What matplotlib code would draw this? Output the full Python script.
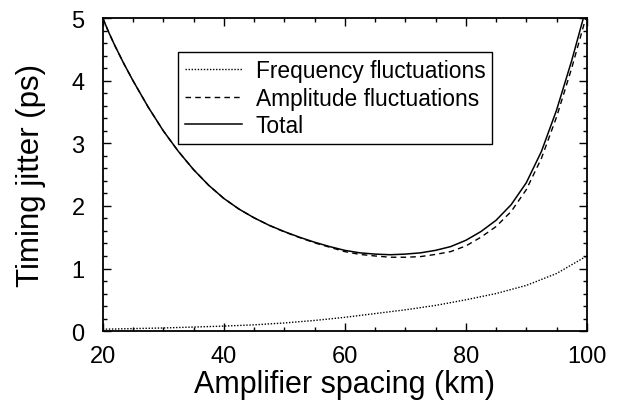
import matplotlib
matplotlib.use("Agg")
import matplotlib.pyplot as plt
from matplotlib.ticker import MultipleLocator

plt.rcParams['font.family'] = ['Liberation Sans', 'DejaVu Sans']

# values
x_tot = [20, 21, 22, 23.5, 25, 27.5, 30, 32.5, 35, 37.5, 40, 42.5, 45, 47.5, 50,
         52.5, 55, 57.5, 60, 62.5, 65, 67.5, 70, 72.5, 75, 77.5, 80, 82.5, 85,
         87.5, 90, 92.5, 95, 97.5, 100]
total = [5.0, 4.77, 4.56, 4.27, 4.0, 3.58, 3.2, 2.87, 2.58, 2.33, 2.12, 1.95, 1.81,
         1.69, 1.59, 1.50, 1.42, 1.35, 1.29, 1.25, 1.23, 1.22, 1.23, 1.25, 1.29,
         1.35, 1.45, 1.59, 1.77, 2.02, 2.37, 2.87, 3.53, 4.32, 5.2]
amp = [5.0, 4.77, 4.56, 4.27, 4.0, 3.58, 3.2, 2.87, 2.58, 2.33, 2.12, 1.95, 1.81,
       1.69, 1.585, 1.495, 1.41, 1.34, 1.27, 1.225, 1.20, 1.18, 1.18, 1.19, 1.225,
       1.27, 1.36, 1.50, 1.67, 1.91, 2.26, 2.76, 3.42, 4.20, 5.06]
x_freq = [20, 25, 30, 35, 40, 45, 50, 55, 60, 65, 70, 75, 80, 85, 90, 95, 100]
freq = [0.03, 0.04, 0.05, 0.065, 0.08, 0.10, 0.13, 0.17, 0.22, 0.28, 0.34, 0.41,
        0.50, 0.60, 0.73, 0.92, 1.20]

fig = plt.figure(figsize=(6.19, 4.06), dpi=100)
ax = fig.add_axes([0.166, 0.182, 0.782, 0.771])

ax.plot(x_freq, freq, color='black', linestyle=(0, (1, 1.2)), linewidth=1.0,
        label='Frequency fluctuations')
ax.plot(x_tot, amp, color='black', linestyle=(0, (4, 3)), linewidth=1.0,
        label='Amplitude fluctuations')
ax.plot(x_tot, total, color='black', linestyle='-', linewidth=1.1, label='Total')

ax.set_xlim(20, 100)
ax.set_ylim(0, 5)
ax.xaxis.set_major_locator(MultipleLocator(20))
ax.xaxis.set_minor_locator(MultipleLocator(5))
ax.yaxis.set_major_locator(MultipleLocator(1))
ax.yaxis.set_minor_locator(MultipleLocator(0.2))
ax.tick_params(which='both', direction='in', top=True, right=True, width=1)
ax.tick_params(which='major', length=6, labelsize=17)
ax.tick_params(axis='x', which='major', pad=10)
ax.tick_params(axis='y', which='major', pad=13)
ax.tick_params(which='minor', length=3)
for s in ax.spines.values():
    s.set_linewidth(1.3)

ax.set_xlabel('Amplifier spacing (km)', fontsize=22)
ax.set_ylabel('Timing jitter (ps)', fontsize=22.5)
ax.xaxis.set_label_coords(0.5, -0.122)
ax.yaxis.set_label_coords(-0.118, 0.5)

leg = ax.legend(loc='upper left', bbox_to_anchor=(0.156, 0.891), borderaxespad=0,
                fontsize=16.4, handlelength=2.5, handletextpad=0.6, labelspacing=0.2,
                fancybox=False, framealpha=1, edgecolor='black', borderpad=0.3)
leg.get_frame().set_linewidth(1.0)

fig.savefig('out.png', dpi=100)
